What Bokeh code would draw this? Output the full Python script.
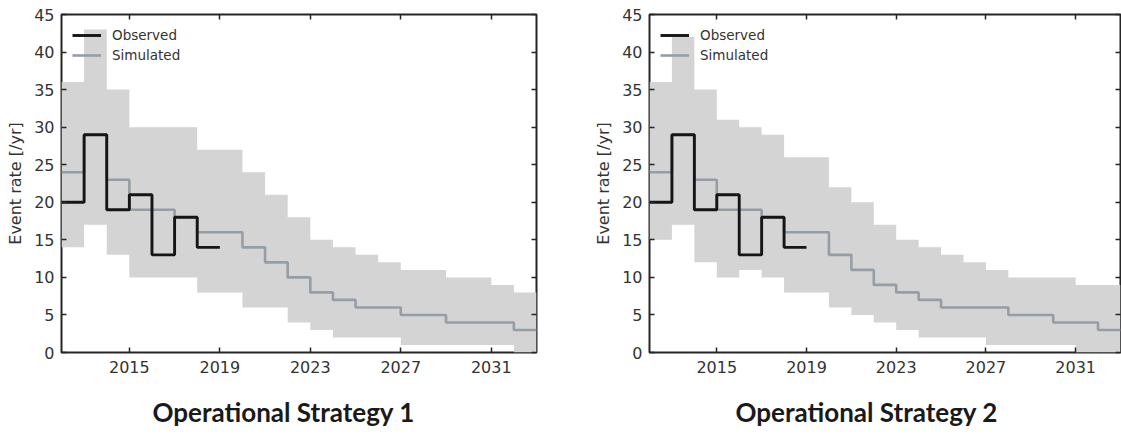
from bokeh.plotting import figure
from bokeh.models import (LinearAxis, FixedTicker, Range1d, Legend, LegendItem, Title)
from bokeh.layouts import row, column
from bokeh.embed import file_html
from bokeh.resources import INLINE

# ---------------- data ----------------
bin_starts = list(range(2012, 2033))   # annual bins 2012..2032
end_year = 2033
obs_years = [2012, 2013, 2014, 2015, 2016, 2017, 2018]
obs_end = 2019
observed = [20, 29, 19, 21, 13, 18, 14]

upper1 = [36, 43, 35, 30, 30, 30, 27, 27, 24, 21, 18, 15, 14, 13, 12, 11, 11, 10, 10, 9, 8]
lower1 = [14, 17, 13, 10, 10, 10, 8, 8, 6, 6, 4, 3, 2, 2, 2, 1, 1, 1, 1, 1, 0]
median1 = [24, 29, 23, 19, 19, 18, 16, 16, 14, 12, 10, 8, 7, 6, 6, 5, 5, 4, 4, 4, 3]

upper2 = [36, 42, 35, 31, 30, 29, 26, 26, 22, 20, 17, 15, 14, 13, 12, 11, 10, 10, 10, 9, 9]
lower2 = [15, 17, 12, 10, 11, 10, 8, 8, 6, 5, 4, 3, 2, 2, 2, 1, 1, 1, 1, 0, 0]
median2 = [24, 29, 23, 19, 19, 18, 16, 16, 13, 11, 9, 8, 7, 6, 6, 6, 5, 5, 4, 4, 3]

x_ticks = [2015, 2019, 2023, 2027, 2031]
y_ticks = [0, 5, 10, 15, 20, 25, 30, 35, 40, 45]
titles = ["Operational Strategy 1", "Operational Strategy 2"]
y_label = "Event rate [/yr]"
legend_labels = ["Observed", "Simulated"]

BAND = "#d4d4d4"
MED = "#959ea6"
OBS = "#151515"
AX = "#262626"
TXT = "#333333"


def make_panel(upper, lower, median, title, width, bl, br, toff):
    p = figure(width=width, height=390, x_range=Range1d(2012, end_year),
               y_range=Range1d(0, 45), output_backend="svg", toolbar_location=None,
               x_axis_type=None, y_axis_type=None,
               min_border_left=bl, min_border_right=br, min_border_top=14,
               min_border_bottom=38)
    p.outline_line_color = AX
    p.outline_line_width = 2
    p.background_fill_color = "white"
    p.border_fill_color = "white"

    xe = bin_starts + [end_year]
    p.varea_step(x=xe, y1=lower + [lower[-1]], y2=upper + [upper[-1]],
                 step_mode="after", fill_color=BAND)
    med_r = p.step(xe, median + [median[-1]], mode="after",
                   line_color=MED, line_width=2.6)
    obs_r = p.step(obs_years + [obs_end], observed + [observed[-1]], mode="after",
                   line_color=OBS, line_width=2.9)

    def style(ax):
        ax.axis_line_color = None
        ax.major_tick_in = 5
        ax.major_tick_out = 0
        ax.major_tick_line_color = AX
        ax.major_tick_line_width = 1.5
        ax.minor_tick_line_color = None
        ax.major_label_text_font = "DejaVu Sans"
        ax.major_label_text_font_size = "16px"
        ax.major_label_text_color = TXT

    xb = LinearAxis(ticker=FixedTicker(ticks=x_ticks))
    style(xb)
    xb.major_label_standoff = 8
    p.add_layout(xb, "below")

    yl = LinearAxis(ticker=FixedTicker(ticks=y_ticks))
    style(yl)
    yl.major_label_standoff = 7
    yl.axis_label = y_label
    yl.axis_label_text_font = "DejaVu Sans"
    yl.axis_label_text_font_size = "16px"
    yl.axis_label_text_font_style = "normal"
    yl.axis_label_text_color = TXT
    yl.axis_label_standoff = 6
    p.add_layout(yl, "left")

    # tick marks only on the top and right spines
    xt = LinearAxis(ticker=FixedTicker(ticks=x_ticks))
    style(xt)
    xt.major_label_overrides = {t: "" for t in x_ticks}
    xt.major_label_text_font_size = "9px"
    xt.major_label_standoff = 0
    p.add_layout(xt, "above")

    yr = LinearAxis(ticker=FixedTicker(ticks=y_ticks))
    style(yr)
    yr.major_label_overrides = {t: "" for t in y_ticks}
    yr.major_label_text_font_size = "9px"
    yr.major_label_standoff = 0
    p.add_layout(yr, "right")

    legend = Legend(items=[LegendItem(label=legend_labels[0], renderers=[obs_r]),
                           LegendItem(label=legend_labels[1], renderers=[med_r])],
                    location="top_left")
    legend.background_fill_alpha = 0
    legend.border_line_color = None
    legend.label_text_font = "DejaVu Sans"
    legend.label_text_font_size = "13.5px"
    legend.label_text_color = TXT
    legend.glyph_width = 29
    legend.glyph_height = 20
    legend.label_height = 20
    legend.label_standoff = 11
    legend.spacing = 0
    legend.padding = 0
    legend.margin = 11
    p.add_layout(legend)

    # caption strip underneath the panel
    c = figure(width=width, height=45, output_backend="svg", toolbar_location=None,
               x_axis_type=None, y_axis_type=None, x_range=Range1d(0, 1),
               y_range=Range1d(0, 1), min_border_left=bl, min_border_right=br,
               min_border_top=0, min_border_bottom=0)
    c.outline_line_color = None
    c.border_fill_color = "white"
    c.background_fill_color = "white"
    c.grid.visible = False
    t = Title(text=title, align="left", offset=toff, text_font="Lato",
              text_font_style="bold", text_font_size="26px", text_color="#1a1a1a",
              standoff=9, vertical_align="middle")
    c.add_layout(t, "above")
    return column(p, c, spacing=0)


p1 = make_panel(upper1, lower1, median1, titles[0], 568, 61, 32, 91)
p2 = make_panel(upper2, lower2, median2, titles[1], 553, 81, 1, 86)
layout = row(p1, p2, spacing=0)

open("out.html", "w").write(file_html(layout, INLINE))
